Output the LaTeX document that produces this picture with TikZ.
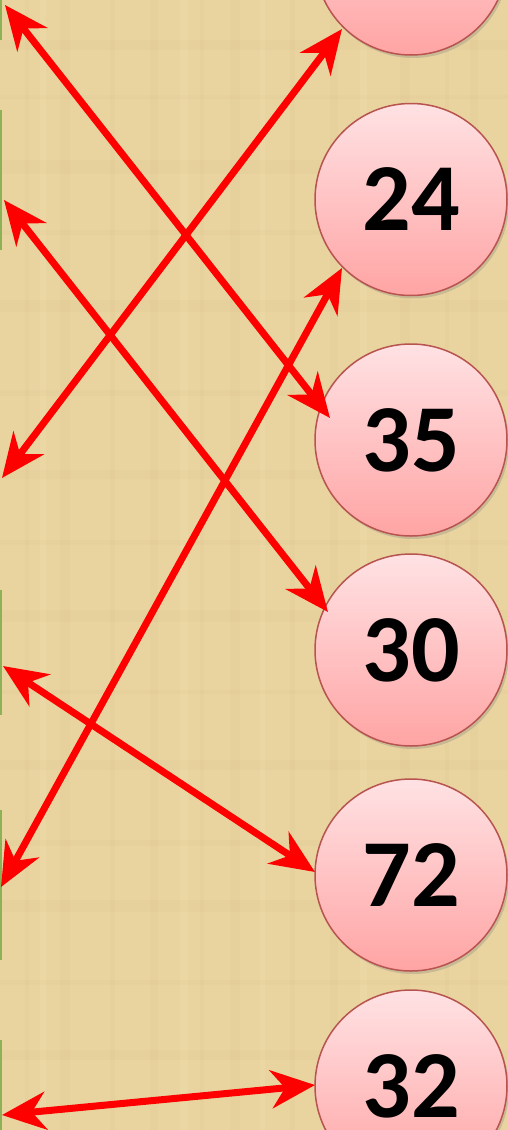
\documentclass[tikz,border=0pt]{standalone}
\usepackage{fontspec}
\setmainfont{Carlito}
\usetikzlibrary{arrows.meta,shadows}
\definecolor{papyrus}{HTML}{E9D4A0}
\definecolor{papyrusdark}{HTML}{D8BD85}
\definecolor{papyruslight}{HTML}{F2E0B2}
\definecolor{ringred}{HTML}{B85450}
\definecolor{pinktop}{HTML}{FFE2E4}
\definecolor{pinkbot}{HTML}{FFA4A4}
\definecolor{arrowred}{HTML}{FF0000}
\definecolor{edgegreen}{HTML}{8DB255}
\begin{document}
\begin{tikzpicture}[x=1pt,y=-1pt,
  ball/.style={circle, minimum size=192pt, inner sep=0pt, draw=ringred, line width=1.5pt,
    top color=pinktop, bottom color=pinkbot,
    drop shadow={opacity=0.3, shadow xshift=2pt, shadow yshift=-3pt},
    font=\fontsize{96}{96}\selectfont\bfseries},
  link/.style={draw=arrowred, line width=7pt, {Stealth[length=44pt,width=38pt,inset=14pt]}-{Stealth[length=44pt,width=38pt,inset=14pt]}},
  strip/.style={fill=edgegreen}
]
\useasboundingbox (0,0) rectangle (508,1130);
\clip (0,0) rectangle (508,1130);
\fill[papyrus] (0,0) rectangle (508,1130);
% faint papyrus texture
\foreach \yy/\hh in {40/10,95/4,160/14,230/5,300/12,390/6,470/9,540/5,610/12,690/4,760/10,840/6,900/12,980/5,1050/10}{
  \fill[papyrusdark,opacity=0.15] (0,\yy) rectangle (508,\yy+\hh);
}
\foreach \xx/\ww in {25/4,60/10,110/5,150/8,200/4,230/10,290/5,330/8,400/10,445/4,470/8}{
  \fill[papyrusdark,opacity=0.12] (\xx,0) rectangle (\xx+\ww,1130);
}
\foreach \xx/\ww in {40/6,180/8,260/5,360/7}{
  \fill[papyruslight,opacity=0.25] (\xx,0) rectangle (\xx+\ww,1130);
}
% green edges of boxes beyond the left border
\fill[strip] (0,0) rectangle (2,40);
\fill[strip] (0,110) rectangle (2,250);
\fill[strip] (0,590) rectangle (2,715);
\fill[strip] (0,810) rectangle (2,960);
\fill[strip] (0,1040) rectangle (2,1130);

% circles
\node[ball] (c1) at (411,-41) {};
\node[ball] (c2) at (411,199.5) {24};
\node[ball] (c3) at (411,440) {35};
\node[ball] (c4) at (411,650) {30};
\node[ball] (c5) at (411,875) {72};
\node[ball] (c6) at (411,1086) {32};

% free ends on the left
\coordinate (l1) at (5,5);
\coordinate (l2) at (2,478);
\coordinate (l3) at (4,200);
\coordinate (l4) at (1,887);
\coordinate (l5) at (3,666);
\coordinate (l6) at (2,1115);
% ends at the circles
\coordinate (r1) at (330,418);
\coordinate (r2) at (342,29);
\coordinate (r3) at (328,612);
\coordinate (r4) at (342,268);
\coordinate (r5) at (315,872);
\coordinate (r6) at (315,1085);

\draw[link] (l1) -- (r1);
\draw[link] (l2) -- (r2);
\draw[link] (l3) -- (r3);
\draw[link] (l4) -- (r4);
\draw[link] (l5) -- (r5);
\draw[link] (l6) -- (r6);
\end{tikzpicture}
\end{document}
